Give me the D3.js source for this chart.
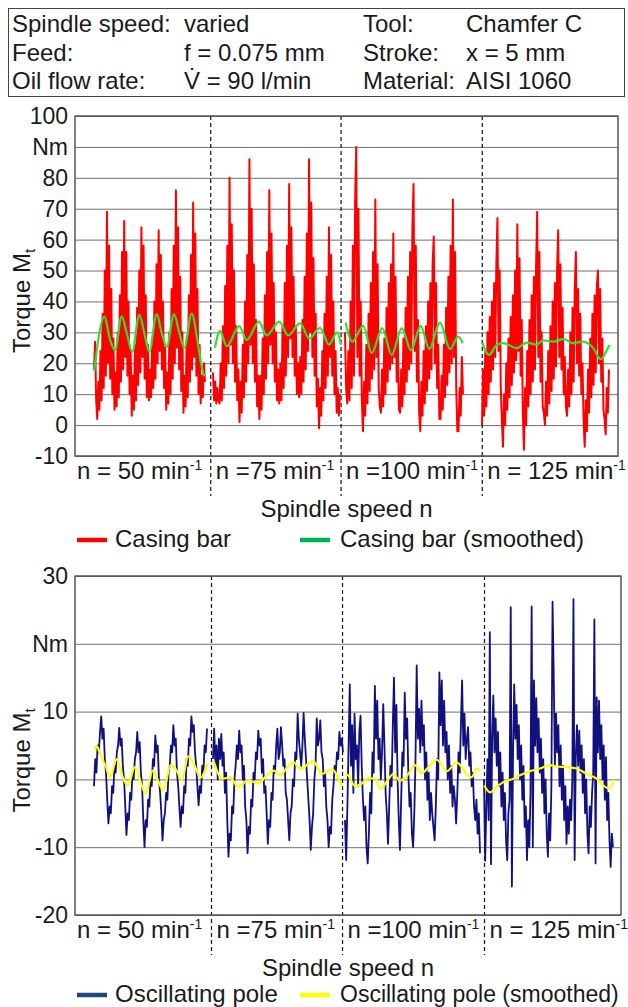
<!DOCTYPE html>
<html>
<head>
<meta charset="utf-8">
<script src="https://cdnjs.cloudflare.com/ajax/libs/d3/7.8.5/d3.min.js"></script>
<style>
  body { margin: 0; background: #fff; }
  svg text { font-family: "Liberation Sans", Arial, sans-serif; fill: #1a1a1a; }
</style>
</head>
<body>
<script>
// ---- header table ----
const headKeysL = ['Spindle speed:', 'Feed:', 'Oil flow rate:'];
const headValsL = ['varied', 'f = 0.075 mm', 'V\u0307 = 90 l/min'];
const headKeysR = ['Tool:', 'Stroke:', 'Material:'];
const headValsR = ['Chamfer C', 'x = 5 mm', 'AISI 1060'];

// ---- x axis: time axis in % of the run, split in four speed blocks ----
const speedLabels = ['n = 50 min', 'n =75 min', 'n =100 min', 'n = 125 min'];
const speedBounds = [25, 49, 75];

// ---- top chart: casing bar, torque in Nm ----
const topTicks = [100, 90, 80, 70, 60, 50, 40, 30, 20, 10, 0, -10];
const topTickLabels = ['100', 'Nm', '80', '70', '60', '50', '40', '30', '20', '10', '0', '-10'];

const casingSpans = [[3.5, 23.94], [25.41, 48.8], [49.72, 71.45], [74.95, 98.34]];
const casing50 = [18, 27, 8,
  2, 14, 5, 24, 8, 36, 12, 50, 16, 69, 20, 58, 15, 44, 10, 28,
  5, 17, 6, 30, 9, 42, 14, 56, 18, 66, 22, 56, 16, 40, 10, 24,
  3, 16, 5, 26, 8, 38, 13, 50, 17, 64, 22, 58, 15, 42, 9, 26,
  8, 18, 9, 28, 12, 40, 15, 52, 20, 63, 24, 55, 18, 40, 12, 25,
  5, 17, 7, 30, 10, 44, 15, 58, 20, 76, 25, 64, 18, 48, 11, 30,
  4, 16, 6, 28, 9, 42, 14, 55, 18, 72, 22, 62, 16, 44, 10, 26,
  7, 16, 9, 20, 14];
const casing75 = [17, 8, 14, 7, 12, 8,
  7, 20, 8, 32, 12, 45, 16, 58, 20, 80, 26, 65, 20, 50, 14, 32, 8, 18,
  1, 14, 4, 26, 9, 40, 14, 55, 20, 86, 26, 70, 20, 52, 14, 34, 6, 16,
  2, 16, 5, 28, 10, 42, 15, 56, 20, 76, 26, 62, 20, 46, 14, 30, 8, 18,
  7, 20, 8, 32, 12, 46, 16, 58, 22, 78, 28, 64, 22, 48, 16, 32, 10, 20,
  9, 22, 10, 34, 14, 48, 18, 62, 24, 86, 30, 72, 22, 54, 16, 36, 6, 15,
  -1, 12, 3, 24, 8, 36, 12, 48, 16, 64, 22, 55, 16, 40, 10, 24, 4, 12,
  3, 10];
const casing100 = [30, 12,
  7, 24, 8, 40, 12, 58, 16, 72, 90, 22, 70, 16, 40, 8,
  -2, 14, 3, 26, 7, 36, 11, 46, 15, 56, 18, 73, 22, 52, 12, 6,
  4, 18, 6, 28, 10, 38, 14, 46, 18, 52, 20, 62, 22, 48, 14, 28, 5,
  4, 18, 6, 28, 10, 38, 14, 48, 18, 56, 20, 64, 78, 24, 58, 14, 34, 4,
  -2, 14, 3, 24, 7, 32, 11, 40, 15, 46, 18, 52, 61, 20, 46, 12, 26, 2,
  2, 16, 5, 26, 9, 38, 13, 48, 17, 58, 20, 73, 22, 56, 12, -2,
  -2, 12, 3, 22, 10];
const casing125 = [
  0, 18, 3, 24, 6, 30, 10, 35, 14, 40, 18, 46, 22, 52, 67, 24, 50, 12, 2,
  -7, 10, 0, 20, 5, 28, 9, 35, 13, 42, 17, 50, 21, 65, 24, 54, 16, 34, 4,
  -8, 12, 0, 24, 6, 34, 10, 42, 14, 48, 18, 52, 69, 22, 56, 14, 30, 6, 4,
  0, 14, 3, 24, 7, 32, 11, 40, 15, 46, 19, 50, 63, 22, 52, 18, 38, 10, 22, 6,
  3, 18, 6, 30, 10, 38, 14, 44, 56, 20, 44, 16, 36, 10, 20, 2,
  -7, 8, -2, 18, 4, 28, 9, 36, 13, 42, 17, 45, 50, 20, 44, 14, 28, 5, 2,
  -3, 12, 4, 18];

// smoothed casing bar: [time %, Nm]
const casingSm50 = [[3.55, 17.5], [4.29, 27.7], [5.4, 35.2], [6.45, 27.7], [7.37, 24.2], [8.6, 35.2],
  [9.52, 29.8], [10.55, 23.7], [11.84, 35.7], [12.76, 29.8], [13.68, 23.7], [15.05, 35.9], [15.97, 29.8],
  [16.89, 25.3], [18.23, 35.9], [19.21, 29.8], [20.13, 25], [21.49, 36.1], [22.52, 27.7], [23.2, 20.1], [23.76, 15.8]];
const casingSm75 = [[25.78, 25], [26.7, 30.5], [27.94, 25.5], [30.26, 32], [31.62, 27.5], [33.89, 33.5],
  [35.3, 29], [37.62, 33.5], [39.28, 29], [41.44, 33], [43.15, 28], [45.12, 31.5], [46.78, 26], [48.25, 30], [48.99, 26]];
const casingSm100 = [[49.85, 33.2], [51.07, 27], [53.09, 32.1], [54.64, 23.3], [56.59, 31.4], [58.32, 22.7],
  [60.17, 31.4], [61.88, 24.2], [63.66, 32.1], [65.25, 24.6], [67.22, 33.2], [69.06, 24.6], [70.59, 28.6], [71.4, 26.5]];
const casingSm125 = [[75.01, 26.7], [76.24, 22.7], [77.66, 25.9], [78.87, 26.5], [81.34, 24.9], [83.18, 26.7],
  [85.03, 26], [86.24, 27.4], [88.08, 27], [89.93, 27.8], [91.77, 26.5], [93.61, 27], [95.45, 24.9],
  [96.81, 21.3], [97.61, 23.1], [98.4, 25.9]];

// ---- bottom chart: oscillating pole, torque in Nm ----
const botTicks = [30, 20, 10, 0, -10, -20];
const botTickLabels = ['30', 'Nm', '10', '0', '-10', '-20'];

const poleSpans = [[3.48, 24.18], [25.27, 49.08], [49.45, 74.18], [74.91, 98.53]];
const pole50 = [-1, 3, 1, 5, 4, 7,
  9.3, 6, 7.5, 3, 1, -3, -6.5, -4, -5, -1, -2, 2, 1, 4, 5,
  7.6, 5, 6, 2, 0, -4, -8.2, -5, -6, -2, -3, 1, 0, 3, 4,
  7, 4, 5.5, 1, -1, -6, -10, -6, -7, -3, -4, 0, -1, 3, 2,
  6.5, 4, 5, 0, -2, -5, -9, -6, -5, -2, -3, 1, 2, 5, 4,
  8, 5, 6, 1, -1, -4, -7, -4, -5, -1, -2, 3, 2, 6, 5,
  9.3, 7, 8, 4, 2, -1, -3.8, -1, -2, 2, 1, 5, 4, 7.5];
const pole75 = [3, 7.5, 2, 5, 0, 6, 3, 6.7, 2, 4, -2, 1, -6, -11.4,
  -8, -9, -4, -5, 0, 2, 5, 3, 7.2, 4, 5, 0, 2, -4, -6, -10.9, -7,
  -8, -3, -4, 1, 0, 4, 3, 7.2, 5, 6, 1, 3, -2, -1, -5, -9.5, -6,
  -7, -2, -3, 2, 1, 5, 7.5, 3, 4, 7.7, 5, 2, 3, -2, -3, -6, -9, -5,
  -4, 0, -1, 4, 3, 9.7, 6, 4, 2, 5, 9.8, 6, 3, 0, -3, -6, -10.4, -7,
  -5, 0, 2, 9, 5, 6, 8.7, 4, 3, -1, 1, -4, -6, -10, -7, -8, -3,
  -1, 2, 1, 4, 3, 7, 5, 6, 4];
const pole100 = [-6, -11.9, -4, 5, 14, 2, 8, -2, 9.7, 3, 5, -1, 7, 9.4, 2, -3, -6, -4, -10, -12.4,
  -8, -2, -5, 4, 1, 13.8, 6, 11.6, 3, 6, 0, 4, 11.1, 5, -2, -5, -9.5,
  -4, 2, -1, 8, 15, 4, 11, 0, -6, -10.4,
  -3, 4, 2, 12.8, 6, 9, 1, -4, -2, -8, -10,
  -5, 3, 16.8, 6, 10.4, 4, 11.6, 5, 8, 0, 4, -3, 1, -6, -2, -5, -7, -9,
  -4, 3, 0, 15.8, 8, 14.6, 5, 11.6, 4, 7, 0, 5, -2, 2, -4, -1, -3, -6.5,
  -2, 4, 1, 8, 14.6, 5, 9.7, 3, 6, 7.7, 2, 4, -1, 1, -4, -6, -3, -8, -5, -10.9];
const pole125 = [0, -12, -4, 3, -6,
  21.7, -12.5, 6, 12.4, 4, 9, 2, 7, -1, 4, -4, 1, -6, -2, -9, -11.9, -5, -3,
  25.4, -15.8, 4, 14, 6, 11, 3, 8, 0, 5, -3, 2, -7, -4, -11.9, -6, -10, -2,
  25.5, -10, 14.6, 5, 12, 4, 9, 1, 6, -2, 3, -5, 0, -8, -11.4, -5, -9, -1,
  26.2, 15.3, 2, 9.7, 4, 8, -1, 5, -3, 2, -6, -1, -9.5, -4, -8, -3, -6, 0,
  26.6, -11.9, 3.3, 8, 2, 7.2, 1, 5, -2, 3, -5, 0, -8, -10.9, -4, -7, -2, 1,
  23.6, -12.4, 12.1, 4, 11.6, 3, 8, 0, 5, -3, 3.3, -6, -2, -9, -12.9, -8, -10];

const poleSm50 = [[3.53, 4.4], [3.97, 4.9], [4.58, 3.8], [5.68, 1.8], [6.41, 0.3], [7.64, 3], [8.55, 0.8],
  [9.65, -0.9], [10.99, 1.8], [11.9, -0.1], [12.95, -2.1], [14.23, 1.3], [15.07, 0.1], [16.17, -1.6],
  [17.53, 2.1], [18.63, 1.3], [19.54, -0.1], [20.75, 3.4], [21.85, 2.1], [23.02, 0.3], [24.23, 2.3]];
const poleSm75 = [[25.33, 2.9], [26.25, 0.8], [27.05, 0.1], [28.39, 0.3], [29.91, -1.1], [31.74, -0.1],
  [33.57, -0.6], [35.11, 0.6], [36.45, 1.3], [37.55, 0.6], [38.88, 1.8], [40.11, 2.5], [41.21, 1.5],
  [43.64, 2.7], [45.18, 0.8], [47.01, 1.5], [48.85, -1.1]];
const poleSm100 = [[49.45, 0.8], [50.05, 0.6], [51.28, -1], [52.51, -0.6], [53.72, 0.2], [54.95, 0.1],
  [55.99, -1.4], [57.2, -0.2], [58.3, 0.8], [59.52, -0.2], [60.86, 0.6], [62.27, 2.1], [63.5, 0.9],
  [64.71, 1.8], [66.25, 2.9], [68.08, 1.2], [69.91, 2.5], [71.74, 0.8], [72.66, 0.3], [73.57, 1.6], [74.18, 1.3]];
const poleSm125 = [[74.96, -0.9], [76.01, -1.9], [77.23, -1.1], [78.44, -0.4], [80.27, 0.1], [81.5, 0.6],
  [83.33, 1.2], [85.16, 1.6], [86.99, 2.1], [88.22, 1.9], [90.05, 1.8], [91.89, 1.6], [93.72, 0.8],
  [95.55, 0.1], [96.76, -0.9], [97.99, -1.4], [98.59, -0.05]];

const W = 628, H = 1007;
const svg = d3.select('body').append('svg').attr('width', W).attr('height', H);
svg.append('rect').attr('width', W).attr('height', H).attr('fill', '#fff');

// header box
svg.append('rect').attr('x', 8.5).attr('y', 8.5).attr('width', 616).attr('height', 88)
  .attr('fill', 'none').attr('stroke', '#444').attr('stroke-width', 1);
const rowY = [31.5, 60.5, 88.5];
const head = svg.append('g').attr('font-size', 24);
[[headKeysL, 12], [headValsL, 184], [headKeysR, 363], [headValsR, 466]].forEach(([col, x]) => {
  head.selectAll(null).data(col).enter().append('text')
    .attr('x', x).attr('y', (d, i) => rowY[i]).text(d => d);
});

function drawPanel(p) {
  const x = d3.scaleLinear().domain([0, 100]).range([p.left, p.right]);
  const y = d3.scaleLinear().domain(p.yDomain).range([p.bottom, p.top]);
  const g = svg.append('g');

  // grid lines and tick labels
  const ax = g.append('g').attr('transform', `translate(${p.left},0)`)
    .call(d3.axisLeft(y).tickValues(p.ticks).tickFormat((d, i) => p.tickLabels[i])
      .tickSize(-(p.right - p.left)).tickPadding(7));
  ax.attr('font-size', 23).attr('font-family', null);
  ax.select('.domain').remove();
  ax.selectAll('line').attr('stroke', '#6f6f6f');
  ax.selectAll('text').attr('fill', '#1a1a1a');

  // dashed separators between speed blocks
  g.selectAll(null).data(speedBounds).enter().append('line')
    .attr('x1', d => x(d)).attr('x2', d => x(d))
    .attr('y1', p.top).attr('y2', p.bottom + 40)
    .attr('stroke', '#111').attr('stroke-width', 1.2).attr('stroke-dasharray', '4,3');

  // raw signal
  p.raw.forEach((vals, i) => {
    const [t0, t1] = p.spans[i];
    const line = d3.line()
      .x((d, j) => x(t0 + (t1 - t0) * j / (vals.length - 1)))
      .y(d => y(d));
    g.append('path').attr('d', line(vals)).attr('fill', 'none')
      .attr('stroke', p.rawColor).attr('stroke-width', p.rawWidth).attr('stroke-linejoin', 'round');
  });

  // smoothed signal
  const sm = d3.line().x(d => x(d[0])).y(d => y(d[1])).curve(d3.curveMonotoneX);
  p.smooth.forEach(pts => {
    g.append('path').attr('d', sm(pts)).attr('fill', 'none')
      .attr('stroke', p.smColor).attr('stroke-width', 2.2);
  });

  // frame
  g.append('rect').attr('x', p.left).attr('y', p.top)
    .attr('width', p.right - p.left).attr('height', p.bottom - p.top)
    .attr('fill', 'none').attr('stroke', '#555').attr('stroke-width', 1.5);

  // speed labels
  const starts = [0].concat(speedBounds);
  const lab = g.selectAll(null).data(speedLabels).enter().append('text')
    .attr('x', (d, i) => x(starts[i]) + (i === 0 ? 2 : 5))
    .attr('y', p.bottom + 23).attr('font-size', 24);
  lab.append('tspan').text(d => d);
  lab.append('tspan').text('-1').attr('font-size', 14).attr('dy', -9);

  // axis titles
  g.append('text').attr('x', (p.left + p.right) / 2).attr('y', p.bottom + 61)
    .attr('text-anchor', 'middle').attr('font-size', 24).text('Spindle speed n');
  const yt = g.append('text')
    .attr('transform', `translate(29.5,${(p.top + p.bottom) / 2 + 15}) rotate(-90)`)
    .attr('text-anchor', 'middle').attr('font-size', 24);
  yt.append('tspan').text('Torque M');
  yt.append('tspan').text('t').attr('font-size', 15).attr('dy', 5);

  // legend
  const ly = p.bottom + p.legendGap;
  p.legend.forEach((it, i) => {
    const lx = i === 0 ? 77 : 300;
    g.append('line').attr('x1', lx).attr('x2', lx + 30).attr('y1', ly).attr('y2', ly)
      .attr('stroke', it.color).attr('stroke-width', 4.5);
    g.append('text').attr('x', lx + (i === 0 ? 38 : 40)).attr('y', ly + 7)
      .attr('font-size', it.size || 24).text(it.name);
  });
}

drawPanel({
  left: 75, right: 618, top: 116, bottom: 456, yDomain: [-10, 100],
  ticks: topTicks, tickLabels: topTickLabels,
  spans: casingSpans, raw: [casing50, casing75, casing100, casing125],
  rawColor: '#ff0000', rawWidth: 2,
  smooth: [casingSm50, casingSm75, casingSm100, casingSm125], smColor: '#2fe02f',
  legendGap: 84,
  legend: [{ name: 'Casing bar', color: '#ff0000' }, { name: 'Casing bar (smoothed)', color: '#00b050' }]
});

drawPanel({
  left: 75, right: 621, top: 576, bottom: 915, yDomain: [-20, 30],
  ticks: botTicks, tickLabels: botTickLabels,
  spans: poleSpans, raw: [pole50, pole75, pole100, pole125],
  rawColor: '#10107f', rawWidth: 1.8,
  smooth: [poleSm50, poleSm75, poleSm100, poleSm125], smColor: '#ffff00',
  legendGap: 80,
  legend: [{ name: 'Oscillating pole', color: '#1f497d' },
    { name: 'Oscillating pole (smoothed)', color: '#ffff00', size: 23 }]
});
</script>
</body>
</html>
